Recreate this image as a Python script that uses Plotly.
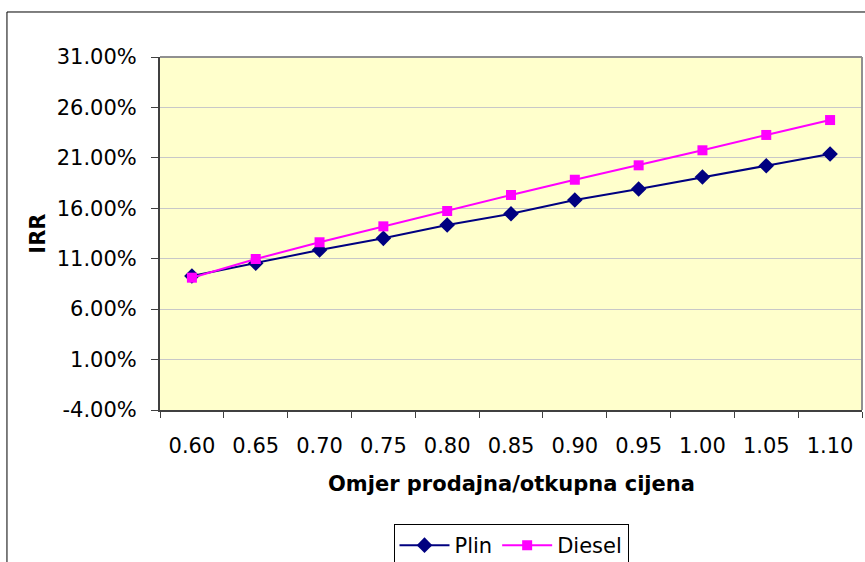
import plotly.graph_objects as go

# Sale/purchase price ratio (categories on the x axis)
ratios = ["0.60", "0.65", "0.70", "0.75", "0.80", "0.85",
          "0.90", "0.95", "1.00", "1.05", "1.10"]

# Internal rate of return for each fuel option (fractions)
irr_plin = [0.0929, 0.1055, 0.1186, 0.1302, 0.1434, 0.1546,
            0.1682, 0.1791, 0.1910, 0.2022, 0.2138]
irr_diesel = [0.0912, 0.1097, 0.1263, 0.1421, 0.1573, 0.1732,
              0.1883, 0.2026, 0.2175, 0.2327, 0.2475]

# Value axis ticks and their labels
y_ticks = [-0.04, 0.01, 0.06, 0.11, 0.16, 0.21, 0.26, 0.31]
y_labels = ["-4.00%", "1.00%", "6.00%", "11.00%", "16.00%",
            "21.00%", "26.00%", "31.00%"]

FONT = "DejaVu Sans"

fig = go.Figure()
fig.add_trace(go.Scatter(
    x=ratios, y=irr_plin, name="Plin", mode="lines+markers",
    line=dict(color="#000080", width=2),
    marker=dict(symbol="diamond", size=12, color="#000080"),
))
fig.add_trace(go.Scatter(
    x=ratios, y=irr_diesel, name="Diesel", mode="lines+markers",
    line=dict(color="#FF00FF", width=2),
    marker=dict(symbol="square", size=10, color="#FF00FF"),
))

fig.update_layout(
    width=865, height=562,
    margin=dict(l=160, r=3, t=57, b=152, autoexpand=False),
    paper_bgcolor="white",
    plot_bgcolor="#FFFFCC",
    font=dict(family=FONT, size=21, color="black"),
    showlegend=True,
    legend=dict(
        orientation="h", x=0.5, xanchor="center", y=-0.323, yanchor="top",
        bgcolor="white", bordercolor="black", borderwidth=1,
        font=dict(family=FONT, size=21, color="black"),
        itemwidth=50, tracegroupgap=0,
    ),
    xaxis=dict(
        type="category", range=[-0.5, 10.5],
        showgrid=False, zeroline=False,
        showline=True, linecolor="#404040", linewidth=2,
        ticks="outside", tickson="boundaries", ticklen=6,
        tickcolor="#404040", tickwidth=1,
        ticklabelstandoff=16,
        tickfont=dict(family=FONT, size=21, color="black"),
    ),
    yaxis=dict(
        range=[y_ticks[0], y_ticks[-1]],
        tickvals=y_ticks, ticktext=y_labels,
        showgrid=True, gridcolor="#C8C8C8", gridwidth=1,
        zeroline=False,
        showline=True, linecolor="#404040", linewidth=2,
        ticks="outside", ticklen=7, tickcolor="#404040", tickwidth=1,
        ticklabelstandoff=10,
        tickfont=dict(family=FONT, size=21, color="black"),
    ),
    annotations=[
        dict(text="<b>Omjer prodajna/otkupna cijena</b>",
             xref="paper", yref="paper", x=0.5, y=-0.21,
             xanchor="center", yanchor="middle", showarrow=False,
             font=dict(family=FONT, size=21, color="black")),
        dict(text="<b>IRR</b>", textangle=-90,
             xref="paper", yref="paper", x=-0.175, y=0.5,
             xanchor="center", yanchor="middle", showarrow=False,
             font=dict(family=FONT, size=21, color="black")),
    ],
    shapes=[
        # gray frame on the top and right of the plot area
        dict(type="line", xref="paper", yref="paper", x0=0, x1=1, y0=1, y1=1,
             line=dict(color="#909090", width=2)),
        dict(type="line", xref="paper", yref="paper", x0=1, x1=1, y0=0, y1=1,
             line=dict(color="#909090", width=2)),
        # outer chart border
        dict(type="rect", xref="paper", yref="paper",
             x0=-0.218, x1=1.02, y0=-0.6, y1=1.1275,
             line=dict(color="black", width=1), layer="below"),
    ],
)

fig.write_html("out.html")
